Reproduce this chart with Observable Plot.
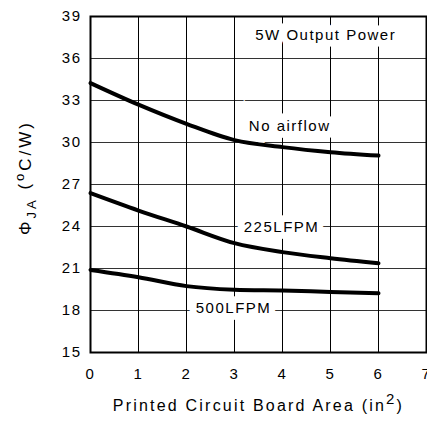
<!DOCTYPE html>
<html><head><meta charset="utf-8">
<script src="https://cdn.jsdelivr.net/npm/d3@7"></script>
<script src="https://cdn.jsdelivr.net/npm/@observablehq/plot@0.6"></script>
<style>body{margin:0;background:#fff}</style>
</head><body><div id="chart"></div>
<script>
// Data
const areaX = [0, 1, 2, 3, 4, 5, 6];
const noAirflow = [34.24, 32.7, 31.33, 30.17, 29.67, 29.31, 29.07];
const lfpm225 = [26.38, 25.14, 24.0, 22.81, 22.17, 21.74, 21.38];
const lfpm500 = [20.9, 20.38, 19.74, 19.48, 19.43, 19.33, 19.24];
const seriesNames = ["No airflow", "225LFPM", "500LFPM"];
const xTicks = [0, 1, 2, 3, 4, 5, 6, 7];
const yTicks = [15, 18, 21, 24, 27, 30, 33, 36, 39];
const labelText = ["5W Output Power", "No airflow", "225LFPM", "500LFPM"];
const labelX = [4.9, 4.15, 3.98, 2.98];
const labelY = [37.64, 31.2, 23.95, 18.17];
const xTitle = "Printed Circuit Board Area (in2)";
const yTitle = "ΦJA (oC/W)";

const rows = [];
[noAirflow, lfpm225, lfpm500].forEach((vals, i) => {
  vals.forEach((v, j) => rows.push({series: seriesNames[i], x: areaX[j], y: v}));
});
const labels = labelText.map((t, i) => ({t, x: labelX[i], y: labelY[i]}));

const chart = Plot.plot({
  width: 427, height: 423,
  marginLeft: 90, marginRight: 1, marginTop: 16, marginBottom: 71,
  style: {fontFamily: "Liberation Sans", fontSize: "15px", letterSpacing: "1.5px", color: "#000", background: "#fff"},
  x: {domain: [0, 7]},
  y: {domain: [15, 39]},
  marks: [
    Plot.gridX(xTicks, {stroke: "#000", strokeOpacity: 1, strokeWidth: 1}),
    Plot.gridY(yTicks, {stroke: "#000", strokeOpacity: 0.8, strokeWidth: 1}),
    Plot.text(labels, {x: "x", y: "y", text: "t", fill: "white", stroke: "white", strokeWidth: 13, strokeLinejoin: "miter", fontSize: 15}),
    Plot.text(labels, {x: "x", y: "y", text: "t", fill: "#000", fontSize: 15}),
    Plot.line(rows, {x: "x", y: "y", z: "series", stroke: "#000", strokeWidth: 4, curve: "catmull-rom"}),
    Plot.axisX(xTicks, {tickSize: 0, tickPadding: 16, label: null}),
    Plot.axisY(yTicks, {tickSize: 0, tickPadding: 9, label: null}),
    Plot.text([xTitle], {frameAnchor: "bottom", dy: 58, fill: "#000", fontSize: 16, textAnchor: "middle"}),
    Plot.text([yTitle], {frameAnchor: "left", dx: -65, dy: -7, rotate: -90, fill: "#000", fontSize: 17, textAnchor: "middle"}),
    Plot.frame({stroke: "#000", strokeWidth: 2})
  ]
});
document.getElementById("chart").appendChild(chart);

// rich text for the titles (superscripts / subscripts)
d3.select(chart).selectAll("text").each(function() {
  const el = d3.select(this);
  const txt = el.text();
  if (txt === xTitle) {
    el.text(null).style("letter-spacing", "2.2px");
    el.append("tspan").text("Printed Circuit Board Area (in");
    el.append("tspan").attr("dy", "-0.45em").attr("font-size", "15px").text("2");
    el.append("tspan").attr("dy", "0.45em").text(")");
  } else if (txt === yTitle) {
    el.text(null).style("letter-spacing", "3px").attr("text-anchor", "middle");
    el.append("tspan").text("Φ");
    el.append("tspan").attr("dy", "0.35em").attr("font-size", "13px").text("JA");
    el.append("tspan").attr("dy", "-0.35em").text(" (");
    el.append("tspan").attr("dy", "-0.45em").attr("font-size", "13px").text("o");
    el.append("tspan").attr("dy", "0.45em").text("C/W)");
  }
});
</script>
</body></html>
